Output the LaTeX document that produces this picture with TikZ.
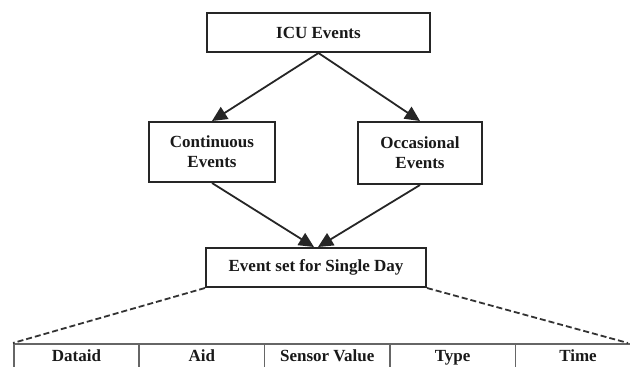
\documentclass[tikz,border=0pt]{standalone}
\usepackage{fontspec}
\setmainfont{Liberation Serif}
\usepackage{tikz}
\usetikzlibrary{positioning, arrows.meta, calc}
\tikzset{
    evbox/.style={draw=black!85, line width=2pt, fill=white, align=center,
        inner sep=0pt, text=black!90,
        font=\fontsize{17}{20}\selectfont\bfseries},
    evarrow/.style={draw=black!85, line width=1.8pt,
        -{Triangle[length=15pt,width=14pt]}},
    zoomline/.style={draw=black!80, line width=1.8pt, dash pattern=on 6pt off 3pt},
    cell/.style={draw=black!60, line width=1.5pt, anchor=north west,
        minimum width=125.4pt, minimum height=27pt, inner sep=0pt,
        text height=12pt, text depth=4pt,
        text=black!90, font=\fontsize{17}{20}\selectfont\bfseries}
}
\begin{document}
\begin{tikzpicture}[x=1pt, y=-1pt]
    \useasboundingbox (0,0) rectangle (630,367);
    \def\colw{125.4}
    \def\tabtop{343}

    % event boxes
    \node[evbox, minimum width=223pt, minimum height=39pt] (icu) at (318.5,32.5) {ICU Events};
    \node[evbox, minimum width=126pt, minimum height=60pt] (cont) at (212,152) {Continuous\\Events};
    \node[evbox, minimum width=124pt, minimum height=62pt] (occ) at (420,153) {Occasional\\Events};
    \node[evbox, minimum width=220pt, minimum height=39pt] (day) at (316,267.5) {Event set for Single Day};

    % arrows
    \draw[evarrow] (icu.south) -- (cont.north);
    \draw[evarrow] (icu.south) -- (occ.north);
    \draw[evarrow] (cont.south) -- ([xshift=-2pt]day.north);
    \draw[evarrow] (occ.south) -- ([xshift=2pt]day.north);

    % table of attributes
    \foreach \name/\i/\txt in {
        dataid/0/Dataid,
        aid/1/Aid,
        sensor/2/Sensor Value,
        type/3/Type,
        time/4/Time}
    {
        \node[cell] (\name) at (13+\i*\colw, \tabtop) {\txt};
    }
    \coordinate (tabend) at (628,\tabtop);

    % zoom lines
    \draw[zoomline] (day.south west) -- (dataid.north west);
    \draw[zoomline] (day.south east) -- (tabend);
\end{tikzpicture}
\end{document}
